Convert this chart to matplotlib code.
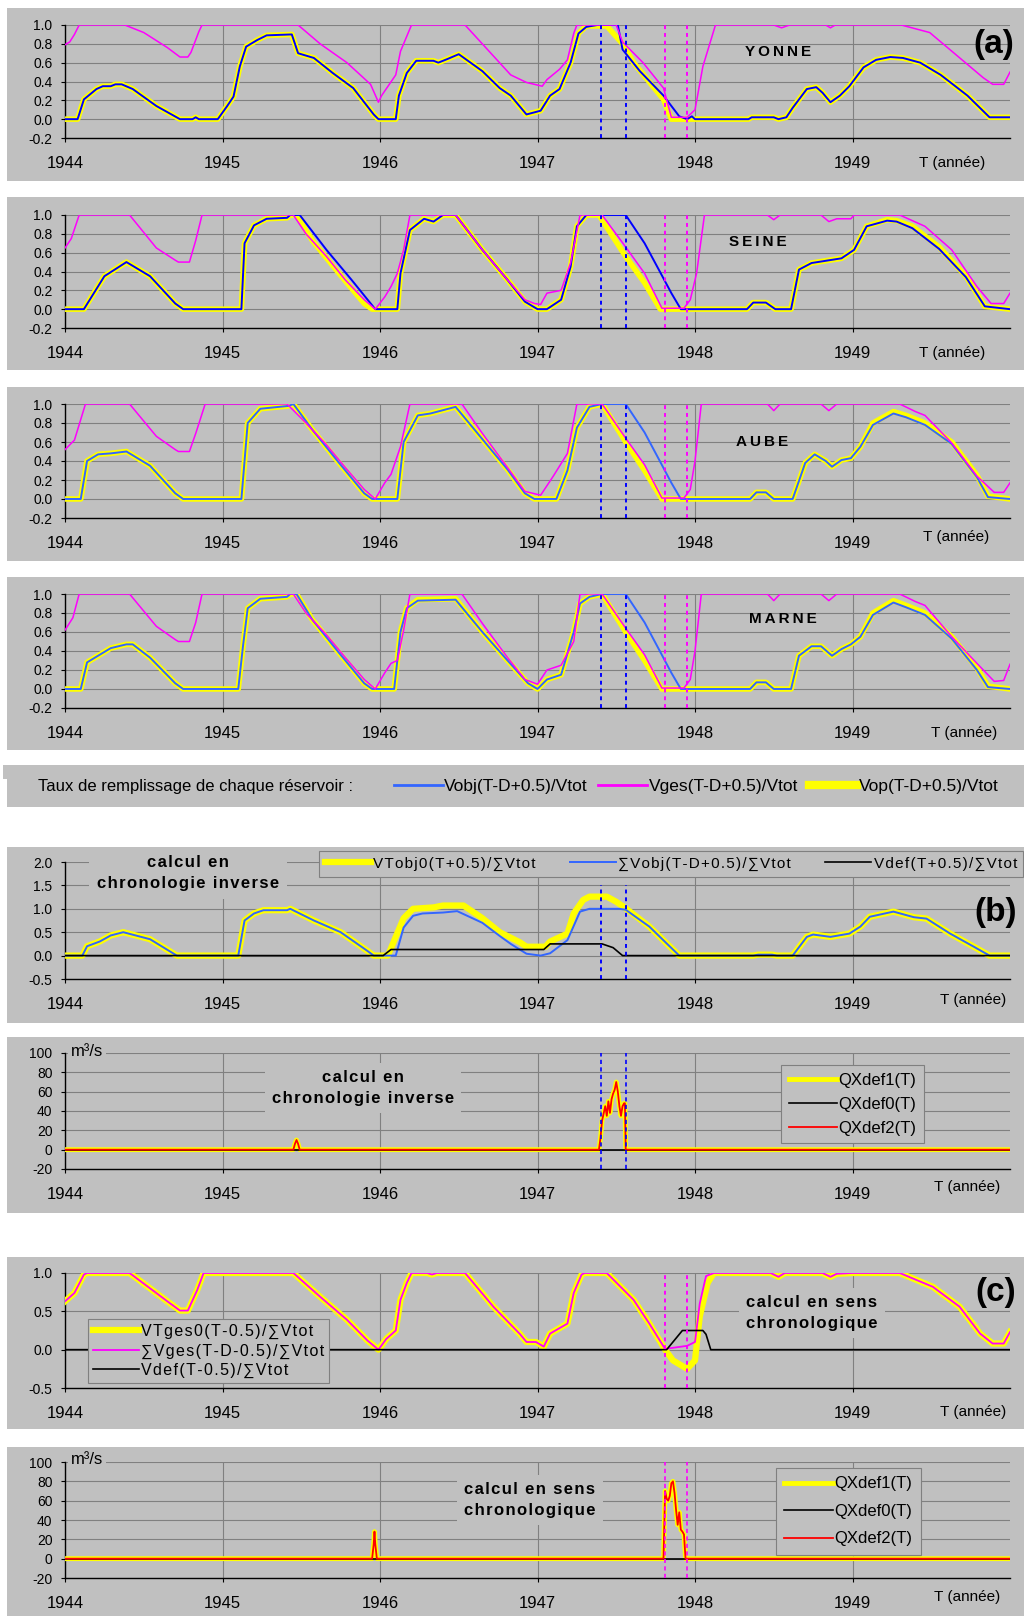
import matplotlib
matplotlib.use('Agg')
import matplotlib.pyplot as plt
from matplotlib.patches import Rectangle
from matplotlib.lines import Line2D
from matplotlib.ticker import FormatStrFormatter

plt.rcParams['font.family'] = ['Liberation Sans', 'DejaVu Sans']

GRAY = '#c0c0c0'
GRID = '#808080'
BLUE = '#0000ff'
LBLUE = '#3366ff'
MAG = '#ff00ff'
YEL = '#ffff00'
RED = '#ff0000'

years = [1944, 1945, 1946, 1947, 1948, 1949]
inverse_dates = [1947.40, 1947.56]
forward_dates = [1947.81, 1947.95]

# ---- (a) taux de remplissage par reservoir : (T, valeur)
yonne_ges = [(1944.00,0.79),(1944.03,0.82),(1944.06,0.90),(1944.09,1.00),(1944.38,1.00),(1944.50,0.92),(1944.65,0.76),(1944.73,0.66),(1944.78,0.66),(1944.80,0.71),(1944.85,0.93),(1944.87,1.00),(1945.48,1.00),(1945.62,0.80),(1945.79,0.60),(1945.94,0.37),(1945.99,0.18),(1946.01,0.25),(1946.10,0.47),(1946.13,0.72),(1946.20,1.00),(1946.54,1.00),(1946.83,0.47),(1946.93,0.39),(1947.03,0.35),(1947.06,0.42),(1947.14,0.53),(1947.19,0.63),(1947.23,0.91),(1947.25,1.00),(1947.50,1.00),(1947.54,0.82),(1947.67,0.60),(1947.80,0.33),(1947.85,0.02),(1947.95,0.02),(1948.00,0.10),(1948.05,0.56),(1948.13,1.00),(1948.50,1.00),(1948.55,0.97),(1948.60,1.00),(1948.83,1.00),(1948.86,0.97),(1948.89,1.00),(1949.31,1.00),(1949.49,0.92),(1949.66,0.68),(1949.83,0.44),(1949.89,0.37),(1949.96,0.37),(1950.00,0.50)]
yonne_op = [(1944.00,0.00),(1944.08,0.00),(1944.12,0.21),(1944.20,0.32),(1944.24,0.35),(1944.29,0.35),(1944.32,0.37),(1944.36,0.37),(1944.43,0.32),(1944.58,0.14),(1944.73,0.00),(1944.81,0.00),(1944.83,0.02),(1944.85,0.00),(1944.97,0.00),(1945.03,0.14),(1945.07,0.24),(1945.11,0.56),(1945.15,0.77),(1945.22,0.84),(1945.28,0.89),(1945.44,0.90),(1945.48,0.70),(1945.58,0.65),(1945.70,0.49),(1945.83,0.33),(1945.96,0.05),(1945.99,0.00),(1946.10,0.00),(1946.12,0.25),(1946.17,0.49),(1946.23,0.62),(1946.34,0.62),(1946.37,0.60),(1946.43,0.64),(1946.50,0.69),(1946.65,0.51),(1946.76,0.33),(1946.83,0.25),(1946.93,0.05),(1947.02,0.09),(1947.08,0.25),(1947.14,0.32),(1947.21,0.60),(1947.26,0.91),(1947.31,0.99),(1947.44,0.99),(1947.54,0.80),(1947.61,0.60),(1947.80,0.21),(1947.85,0.00),(1948.34,0.00),(1948.36,0.02),(1948.50,0.02),(1948.53,0.00),(1948.58,0.02),(1948.62,0.12),(1948.71,0.32),(1948.77,0.34),(1948.81,0.28),(1948.86,0.18),(1948.92,0.25),(1948.98,0.35),(1949.07,0.55),(1949.15,0.63),(1949.24,0.66),(1949.32,0.65),(1949.43,0.60),(1949.56,0.47),(1949.73,0.25),(1949.87,0.02),(1950.00,0.02)]
yonne_obj = [(1944.00,0.00),(1944.08,0.00),(1944.12,0.21),(1944.20,0.32),(1944.24,0.35),(1944.29,0.35),(1944.32,0.37),(1944.36,0.37),(1944.43,0.32),(1944.58,0.14),(1944.73,0.00),(1944.81,0.00),(1944.83,0.02),(1944.85,0.00),(1944.97,0.00),(1945.03,0.14),(1945.07,0.24),(1945.11,0.56),(1945.15,0.77),(1945.22,0.84),(1945.28,0.89),(1945.44,0.90),(1945.48,0.70),(1945.58,0.65),(1945.70,0.49),(1945.83,0.33),(1945.96,0.05),(1945.99,0.00),(1946.10,0.00),(1946.12,0.25),(1946.17,0.49),(1946.23,0.62),(1946.34,0.62),(1946.37,0.60),(1946.43,0.64),(1946.50,0.69),(1946.65,0.51),(1946.76,0.33),(1946.83,0.25),(1946.93,0.05),(1947.02,0.09),(1947.08,0.25),(1947.14,0.32),(1947.21,0.60),(1947.26,0.91),(1947.31,0.98),(1947.38,1.00),(1947.51,1.00),(1947.54,0.74),(1947.65,0.51),(1947.80,0.25),(1947.90,0.03),(1947.95,0.00),(1947.98,0.03),(1948.00,0.00),(1948.34,0.00),(1948.36,0.02),(1948.50,0.02),(1948.53,0.00),(1948.58,0.02),(1948.62,0.12),(1948.71,0.32),(1948.77,0.34),(1948.81,0.28),(1948.86,0.18),(1948.92,0.25),(1948.98,0.35),(1949.07,0.55),(1949.15,0.63),(1949.24,0.66),(1949.32,0.65),(1949.43,0.60),(1949.56,0.47),(1949.73,0.25),(1949.87,0.02),(1950.00,0.02)]

seine_ges = [(1944.00,0.65),(1944.04,0.75),(1944.09,1.00),(1944.41,1.00),(1944.58,0.65),(1944.70,0.52),(1944.72,0.50),(1944.79,0.50),(1944.83,0.73),(1944.87,1.00),(1945.45,1.00),(1945.53,0.80),(1945.66,0.56),(1945.78,0.31),(1945.90,0.10),(1945.97,0.00),(1946.03,0.13),(1946.07,0.24),(1946.11,0.38),(1946.15,0.63),(1946.19,1.00),(1946.48,1.00),(1946.65,0.63),(1946.81,0.31),(1946.92,0.10),(1946.98,0.06),(1947.02,0.05),(1947.06,0.17),(1947.15,0.20),(1947.21,0.49),(1947.27,1.00),(1947.41,1.00),(1947.56,0.66),(1947.68,0.38),(1947.79,0.01),(1947.93,0.01),(1947.97,0.10),(1948.01,0.38),(1948.06,1.00),(1948.46,1.00),(1948.50,0.95),(1948.54,1.00),(1948.80,1.00),(1948.85,0.93),(1948.90,0.96),(1948.99,0.96),(1949.01,1.00),(1949.30,1.00),(1949.46,0.88),(1949.63,0.63),(1949.79,0.24),(1949.88,0.06),(1949.96,0.06),(1950.00,0.17)]
seine_op = [(1944.00,0.00),(1944.12,0.00),(1944.25,0.35),(1944.39,0.50),(1944.54,0.35),(1944.70,0.06),(1944.75,0.00),(1945.12,0.00),(1945.14,0.70),(1945.20,0.89),(1945.28,0.96),(1945.41,0.97),(1945.43,1.00),(1945.47,1.00),(1945.57,0.73),(1945.74,0.38),(1945.90,0.06),(1945.95,0.00),(1946.11,0.00),(1946.13,0.38),(1946.19,0.84),(1946.28,0.96),(1946.34,0.93),(1946.40,1.00),(1946.48,1.00),(1946.65,0.63),(1946.81,0.31),(1946.92,0.08),(1947.00,0.00),(1947.06,0.00),(1947.15,0.10),(1947.21,0.45),(1947.25,0.88),(1947.31,1.00),(1947.39,1.00),(1947.56,0.56),(1947.68,0.28),(1947.78,0.00),(1948.33,0.00),(1948.37,0.07),(1948.45,0.07),(1948.51,0.00),(1948.61,0.00),(1948.66,0.42),(1948.74,0.49),(1948.93,0.54),(1949.01,0.63),(1949.09,0.88),(1949.22,0.95),(1949.28,0.94),(1949.38,0.88),(1949.55,0.66),(1949.72,0.35),(1949.84,0.03),(1950.00,0.00)]
seine_obj = [(1944.00,0.00),(1944.12,0.00),(1944.25,0.35),(1944.39,0.50),(1944.54,0.35),(1944.70,0.06),(1944.75,0.00),(1945.12,0.00),(1945.14,0.70),(1945.20,0.89),(1945.28,0.96),(1945.41,0.97),(1945.43,1.00),(1945.49,1.00),(1945.66,0.63),(1945.82,0.31),(1945.97,0.00),(1946.11,0.00),(1946.13,0.38),(1946.19,0.84),(1946.28,0.96),(1946.34,0.93),(1946.40,1.00),(1946.48,1.00),(1946.65,0.63),(1946.81,0.31),(1946.92,0.08),(1947.00,0.00),(1947.06,0.00),(1947.15,0.10),(1947.21,0.45),(1947.25,0.88),(1947.31,1.00),(1947.56,1.00),(1947.68,0.70),(1947.77,0.42),(1947.85,0.17),(1947.91,0.00),(1948.33,0.00),(1948.37,0.07),(1948.45,0.07),(1948.51,0.00),(1948.61,0.00),(1948.66,0.42),(1948.74,0.49),(1948.93,0.54),(1949.01,0.63),(1949.09,0.88),(1949.22,0.94),(1949.28,0.93),(1949.38,0.86),(1949.55,0.64),(1949.72,0.34),(1949.84,0.03),(1950.00,0.00)]

aube_ges = [(1944.00,0.52),(1944.06,0.62),(1944.13,1.00),(1944.41,1.00),(1944.58,0.66),(1944.70,0.52),(1944.72,0.50),(1944.79,0.50),(1944.83,0.69),(1944.89,1.00),(1945.41,1.00),(1945.53,0.80),(1945.66,0.57),(1945.78,0.33),(1945.90,0.10),(1945.97,0.00),(1946.03,0.17),(1946.07,0.26),(1946.13,0.55),(1946.19,1.00),(1946.52,1.00),(1946.65,0.69),(1946.81,0.33),(1946.92,0.08),(1947.02,0.04),(1947.10,0.24),(1947.19,0.48),(1947.25,1.00),(1947.41,1.00),(1947.56,0.64),(1947.68,0.36),(1947.79,0.01),(1947.93,0.01),(1947.97,0.10),(1948.00,0.40),(1948.04,1.00),(1948.46,1.00),(1948.50,0.93),(1948.54,1.00),(1948.80,1.00),(1948.85,0.93),(1948.90,1.00),(1949.30,1.00),(1949.40,0.92),(1949.46,0.88),(1949.63,0.59),(1949.79,0.24),(1949.90,0.07),(1949.96,0.07),(1950.00,0.17)]
aube_op = [(1944.00,0.00),(1944.10,0.00),(1944.14,0.40),(1944.21,0.47),(1944.29,0.48),(1944.39,0.50),(1944.54,0.35),(1944.70,0.06),(1944.75,0.00),(1945.12,0.00),(1945.16,0.80),(1945.24,0.95),(1945.42,0.98),(1945.45,1.00),(1945.57,0.73),(1945.74,0.38),(1945.90,0.06),(1945.95,0.00),(1946.11,0.00),(1946.15,0.60),(1946.24,0.88),(1946.32,0.90),(1946.48,0.97),(1946.65,0.63),(1946.81,0.31),(1946.92,0.06),(1946.98,0.00),(1947.12,0.00),(1947.19,0.30),(1947.25,0.75),(1947.33,0.97),(1947.41,1.00),(1947.56,0.60),(1947.68,0.30),(1947.79,0.00),(1948.35,0.00),(1948.39,0.07),(1948.45,0.07),(1948.50,0.00),(1948.62,0.00),(1948.70,0.38),(1948.76,0.47),(1948.83,0.40),(1948.87,0.34),(1948.93,0.41),(1948.99,0.43),(1949.05,0.55),(1949.13,0.80),(1949.26,0.92),(1949.34,0.88),(1949.46,0.80),(1949.63,0.60),(1949.79,0.25),(1949.86,0.03),(1950.00,0.00)]
aube_obj = [(1944.00,0.00),(1944.10,0.00),(1944.14,0.40),(1944.21,0.47),(1944.29,0.48),(1944.39,0.50),(1944.54,0.35),(1944.70,0.06),(1944.75,0.00),(1945.12,0.00),(1945.16,0.80),(1945.24,0.95),(1945.42,0.98),(1945.45,1.00),(1945.57,0.73),(1945.74,0.38),(1945.90,0.06),(1945.95,0.00),(1946.11,0.00),(1946.15,0.60),(1946.24,0.88),(1946.32,0.90),(1946.48,0.97),(1946.65,0.63),(1946.81,0.31),(1946.92,0.06),(1946.98,0.00),(1947.12,0.00),(1947.19,0.30),(1947.25,0.75),(1947.33,0.97),(1947.41,1.00),(1947.56,1.00),(1947.68,0.70),(1947.77,0.42),(1947.85,0.17),(1947.91,0.00),(1948.35,0.00),(1948.39,0.07),(1948.45,0.07),(1948.50,0.00),(1948.62,0.00),(1948.70,0.38),(1948.76,0.47),(1948.83,0.40),(1948.87,0.34),(1948.93,0.41),(1948.99,0.43),(1949.05,0.55),(1949.13,0.78),(1949.26,0.90),(1949.34,0.86),(1949.46,0.78),(1949.63,0.58),(1949.79,0.23),(1949.86,0.02),(1950.00,0.00)]

marne_ges = [(1944.00,0.62),(1944.05,0.75),(1944.09,1.00),(1944.41,1.00),(1944.58,0.66),(1944.70,0.52),(1944.72,0.50),(1944.79,0.50),(1944.83,0.70),(1944.87,1.00),(1945.45,1.00),(1945.53,0.80),(1945.66,0.57),(1945.78,0.33),(1945.90,0.10),(1945.97,0.00),(1946.03,0.17),(1946.07,0.27),(1946.11,0.30),(1946.15,0.62),(1946.19,1.00),(1946.52,1.00),(1946.65,0.69),(1946.81,0.33),(1946.92,0.10),(1947.00,0.05),(1947.06,0.20),(1947.15,0.25),(1947.23,0.50),(1947.27,1.00),(1947.41,1.00),(1947.56,0.64),(1947.68,0.36),(1947.79,0.01),(1947.93,0.01),(1947.97,0.10),(1948.00,0.40),(1948.04,1.00),(1948.46,1.00),(1948.50,0.93),(1948.54,1.00),(1948.80,1.00),(1948.85,0.93),(1948.90,1.00),(1949.30,1.00),(1949.40,0.92),(1949.46,0.88),(1949.63,0.55),(1949.79,0.27),(1949.90,0.08),(1949.96,0.09),(1950.00,0.26)]
marne_op = [(1944.00,0.00),(1944.10,0.00),(1944.14,0.28),(1944.21,0.35),(1944.29,0.43),(1944.39,0.47),(1944.43,0.47),(1944.54,0.33),(1944.70,0.06),(1944.75,0.00),(1945.10,0.00),(1945.13,0.45),(1945.16,0.85),(1945.24,0.95),(1945.41,0.97),(1945.43,1.00),(1945.47,1.00),(1945.57,0.73),(1945.74,0.38),(1945.90,0.06),(1945.95,0.00),(1946.09,0.00),(1946.13,0.60),(1946.17,0.85),(1946.24,0.94),(1946.48,0.95),(1946.65,0.60),(1946.81,0.30),(1946.94,0.06),(1947.00,0.00),(1947.06,0.10),(1947.15,0.15),(1947.23,0.60),(1947.27,0.90),(1947.33,0.97),(1947.41,1.00),(1947.56,0.60),(1947.68,0.30),(1947.79,0.00),(1948.35,0.00),(1948.39,0.07),(1948.45,0.07),(1948.50,0.00),(1948.61,0.00),(1948.66,0.35),(1948.74,0.45),(1948.80,0.45),(1948.87,0.35),(1948.93,0.42),(1948.99,0.47),(1949.05,0.55),(1949.13,0.80),(1949.26,0.93),(1949.34,0.88),(1949.46,0.80),(1949.63,0.55),(1949.79,0.22),(1949.86,0.03),(1950.00,0.00)]
marne_obj = [(1944.00,0.00),(1944.10,0.00),(1944.14,0.28),(1944.21,0.35),(1944.29,0.43),(1944.39,0.47),(1944.43,0.47),(1944.54,0.33),(1944.70,0.06),(1944.75,0.00),(1945.10,0.00),(1945.13,0.45),(1945.16,0.85),(1945.24,0.95),(1945.41,0.97),(1945.43,1.00),(1945.47,1.00),(1945.57,0.73),(1945.74,0.38),(1945.90,0.06),(1945.95,0.00),(1946.09,0.00),(1946.13,0.60),(1946.17,0.85),(1946.24,0.93),(1946.48,0.94),(1946.65,0.60),(1946.81,0.30),(1946.94,0.06),(1947.00,0.00),(1947.06,0.10),(1947.15,0.15),(1947.23,0.60),(1947.27,0.90),(1947.33,0.97),(1947.41,1.00),(1947.56,1.00),(1947.68,0.70),(1947.77,0.42),(1947.85,0.17),(1947.91,0.00),(1948.35,0.00),(1948.39,0.07),(1948.45,0.07),(1948.50,0.00),(1948.61,0.00),(1948.66,0.35),(1948.74,0.45),(1948.80,0.45),(1948.87,0.35),(1948.93,0.42),(1948.99,0.47),(1949.05,0.55),(1949.13,0.78),(1949.26,0.91),(1949.34,0.86),(1949.46,0.78),(1949.63,0.53),(1949.79,0.20),(1949.86,0.02),(1950.00,0.00)]

river_names = ['YONNE', 'SEINE', 'AUBE', 'MARNE']
legend_a_title = 'Taux de remplissage de chaque réservoir :'
legend_a_labels = ['Vobj(T-D+0.5)/Vtot', 'Vges(T-D+0.5)/Vtot', 'Vop(T-D+0.5)/Vtot']

# ---- (b) chronologie inverse
b_vtobj0 = [(1944.00,0.00),(1944.11,0.00),(1944.14,0.20),(1944.22,0.30),(1944.29,0.43),(1944.37,0.50),(1944.54,0.35),(1944.71,0.00),(1945.10,0.00),(1945.14,0.75),(1945.20,0.90),(1945.26,0.97),(1945.41,0.97),(1945.43,1.00),(1945.58,0.75),(1945.75,0.50),(1945.92,0.10),(1945.96,0.00),(1946.05,0.00),(1946.10,0.40),(1946.15,0.80),(1946.21,1.00),(1946.34,1.03),(1946.40,1.07),(1946.53,1.07),(1946.65,0.80),(1946.76,0.50),(1946.89,0.28),(1946.93,0.19),(1947.05,0.19),(1947.08,0.30),(1947.19,0.47),(1947.23,0.90),(1947.29,1.19),(1947.33,1.26),(1947.44,1.26),(1947.50,1.15),(1947.56,1.01),(1947.71,0.62),(1947.82,0.26),(1947.90,0.00),(1948.37,0.00),(1948.40,0.02),(1948.49,0.02),(1948.52,0.00),(1948.62,0.00),(1948.71,0.40),(1948.75,0.45),(1948.86,0.40),(1948.98,0.47),(1949.05,0.62),(1949.11,0.83),(1949.26,0.94),(1949.39,0.82),(1949.47,0.79),(1949.62,0.47),(1949.77,0.19),(1949.87,0.00),(1950.00,0.00)]
b_sumvobj = [(1944.00,0.00),(1944.11,0.00),(1944.14,0.20),(1944.22,0.30),(1944.29,0.43),(1944.37,0.50),(1944.54,0.35),(1944.71,0.00),(1945.10,0.00),(1945.14,0.75),(1945.20,0.90),(1945.26,0.97),(1945.41,0.97),(1945.43,1.00),(1945.58,0.75),(1945.75,0.50),(1945.92,0.10),(1945.96,0.00),(1946.10,0.00),(1946.15,0.60),(1946.21,0.85),(1946.27,0.90),(1946.40,0.92),(1946.49,0.95),(1946.65,0.70),(1946.76,0.42),(1946.83,0.25),(1946.93,0.04),(1947.02,0.00),(1947.08,0.05),(1947.19,0.33),(1947.27,0.94),(1947.33,1.00),(1947.52,1.00),(1947.56,0.98),(1947.71,0.62),(1947.82,0.26),(1947.90,0.00),(1948.37,0.00),(1948.40,0.02),(1948.49,0.02),(1948.52,0.00),(1948.62,0.00),(1948.71,0.40),(1948.75,0.45),(1948.86,0.40),(1948.98,0.47),(1949.05,0.62),(1949.11,0.83),(1949.26,0.94),(1949.39,0.82),(1949.47,0.79),(1949.62,0.47),(1949.77,0.19),(1949.87,0.00),(1950.00,0.00)]
b_vdef = [(1944.00,0.00),(1946.02,0.00),(1946.07,0.13),(1947.04,0.13),(1947.08,0.25),(1947.41,0.25),(1947.48,0.17),(1947.54,0.00),(1950.00,0.00)]
b_labels = ['VTobj0(T+0.5)/∑Vtot', '∑Vobj(T-D+0.5)/∑Vtot', 'Vdef(T+0.5)/∑Vtot']

b_qxdef = [(1944.00,0),(1945.45,0),(1945.46,6),(1945.47,10),(1945.48,6),(1945.49,0),(1947.39,0),(1947.40,12),(1947.41,30),(1947.43,45),(1947.44,35),(1947.45,50),(1947.46,38),(1947.47,52),(1947.48,58),(1947.49,62),(1947.50,70),(1947.51,60),(1947.52,45),(1947.53,35),(1947.54,45),(1947.55,48),(1947.555,48),(1947.56,0),(1950.00,0)]
b_qxdef0 = [(1944.00,0),(1950.00,0)]

# ---- (c) sens chronologique
c_sumvges = [(1944.00,0.63),(1944.06,0.74),(1944.12,0.98),(1944.14,1.00),(1944.41,1.00),(1944.54,0.80),(1944.65,0.63),(1944.73,0.51),(1944.78,0.51),(1944.84,0.78),(1944.88,1.00),(1945.45,1.00),(1945.62,0.69),(1945.79,0.39),(1945.92,0.12),(1945.99,0.00),(1946.04,0.14),(1946.10,0.25),(1946.13,0.65),(1946.17,0.87),(1946.20,1.00),(1946.30,1.00),(1946.33,0.98),(1946.36,1.00),(1946.54,1.00),(1946.72,0.56),(1946.89,0.20),(1946.93,0.10),(1946.99,0.10),(1947.04,0.04),(1947.08,0.21),(1947.19,0.34),(1947.23,0.74),(1947.28,0.98),(1947.30,1.00),(1947.44,1.00),(1947.61,0.65),(1947.71,0.34),(1947.81,0.01),(1947.95,0.05),(1948.00,0.10),(1948.03,0.60),(1948.07,0.96),(1948.12,1.00),(1948.48,1.00),(1948.53,0.95),(1948.57,1.00),(1948.81,1.00),(1948.86,0.95),(1948.90,0.99),(1949.00,1.00),(1949.30,1.00),(1949.51,0.82),(1949.68,0.56),(1949.81,0.21),(1949.89,0.08),(1949.96,0.08),(1950.00,0.23)]
c_vtges0 = [(1944.00,0.63),(1944.06,0.74),(1944.12,0.98),(1944.14,1.00),(1944.41,1.00),(1944.54,0.80),(1944.65,0.63),(1944.73,0.51),(1944.78,0.51),(1944.84,0.78),(1944.88,1.00),(1945.45,1.00),(1945.62,0.69),(1945.79,0.39),(1945.92,0.12),(1945.99,0.00),(1946.04,0.14),(1946.10,0.25),(1946.13,0.65),(1946.17,0.87),(1946.20,1.00),(1946.30,1.00),(1946.33,0.98),(1946.36,1.00),(1946.54,1.00),(1946.72,0.56),(1946.89,0.20),(1946.93,0.10),(1946.99,0.10),(1947.04,0.04),(1947.08,0.21),(1947.19,0.34),(1947.23,0.74),(1947.28,0.98),(1947.30,1.00),(1947.44,1.00),(1947.61,0.65),(1947.71,0.34),(1947.81,0.00),(1947.86,-0.14),(1947.95,-0.25),(1948.00,-0.14),(1948.03,0.43),(1948.08,0.87),(1948.12,1.00),(1948.48,1.00),(1948.53,0.95),(1948.57,1.00),(1948.81,1.00),(1948.86,0.95),(1948.90,0.99),(1949.00,1.00),(1949.30,1.00),(1949.51,0.82),(1949.68,0.56),(1949.81,0.21),(1949.89,0.08),(1949.96,0.08),(1950.00,0.23)]
c_vdef = [(1944.00,0.00),(1947.82,0.00),(1947.92,0.25),(1948.05,0.25),(1948.07,0.20),(1948.10,0.00),(1950.00,0.00)]
c_labels = ['VTges0(T-0.5)/∑Vtot', '∑Vges(T-D-0.5)/∑Vtot', 'Vdef(T-0.5)/∑Vtot']

c_qxdef = [(1944.00,0),(1945.95,0),(1945.96,15),(1945.965,28),(1945.97,15),(1945.98,0),(1947.80,0),(1947.81,70),(1947.82,62),(1947.83,60),(1947.84,65),(1947.85,78),(1947.86,80),(1947.87,68),(1947.88,50),(1947.89,35),(1947.90,48),(1947.91,30),(1947.92,28),(1947.93,25),(1947.94,0),(1950.00,0)]
c_qxdef0 = [(1944.00,0),(1950.00,0)]
qx_labels = ['QXdef1(T)', 'QXdef0(T)', 'QXdef2(T)']

W, H = 1024, 1616
fig = plt.figure(figsize=(W / 100, H / 100), dpi=100)


def fx(x):
    return x / W


def fy(y):
    return 1 - y / H


def panel(top, bottom, left=7):
    fig.add_artist(Rectangle((fx(left), fy(bottom)), fx(W - left), (bottom - top) / H,
                             transform=fig.transFigure, fc=GRAY, ec='none', zorder=-5))


def make_axes(top, bottom, ylim, yticks, fmt):
    ax = fig.add_axes([fx(65), fy(bottom), fx(1010 - 65), (bottom - top) / H])
    ax.set_facecolor(GRAY)
    ax.set_xlim(1944, 1950)
    ax.set_ylim(*ylim)
    ax.set_xticks(years)
    ax.set_xticklabels([str(y) for y in years], fontsize=12,
                       family=['Liberation Sans Narrow', 'Liberation Sans'])
    ax.set_yticks(yticks)
    ax.yaxis.set_major_formatter(FormatStrFormatter(fmt))
    ax.tick_params(axis='y', labelsize=10, length=3, pad=6)
    ax.tick_params(axis='x', length=3, pad=10)
    ax.grid(True, color=GRID, lw=0.8)
    ax.set_axisbelow(True)
    for s in ['top', 'right']:
        ax.spines[s].set_visible(False)
    for s in ['left', 'bottom']:
        ax.spines[s].set_color('black')
        ax.spines[s].set_linewidth(1.0)
    return ax


def xy(pairs):
    return [p[0] for p in pairs], [p[1] for p in pairs]


def spaced(s, sep='\u2009'):
    return '\n'.join(sep.join(line) for line in s.split('\n'))


HAIR = '\u200a'

# ================= (a) =================
rivers = [
    (yonne_ges, yonne_op, yonne_obj, BLUE),
    (seine_ges, seine_op, seine_obj, BLUE),
    (aube_ges, aube_op, aube_obj, LBLUE),
    (marne_ges, marne_op, marne_obj, LBLUE),
]
a_boxes = [(8, 181, 25, 138), (197, 370, 215, 328), (387, 561, 404, 518), (577, 750, 594, 708)]
name_pos = [(778, 52), (758, 242), (762, 442), (783, 619)]
t_pos = [(952, 163), (952, 353), (956, 537), (964, 733)]

for (ges, op, obj, bcol), (pt, pb, at, ab), name, npos, tpos in zip(rivers, a_boxes, river_names, name_pos, t_pos):
    panel(pt, pb)
    ax = make_axes(at, ab, (-0.2, 1.0), [-0.2, 0.0, 0.2, 0.4, 0.6, 0.8, 1.0], '%.1f')
    ax.plot(*xy(op), color=YEL, lw=4.0, solid_joinstyle='round', zorder=3)
    ax.plot(*xy(obj), color=bcol, lw=1.4, zorder=4)
    ax.plot(*xy(ges), color=MAG, lw=1.1, zorder=5)
    for d in inverse_dates:
        ax.axvline(d, color=BLUE, lw=1.4, ls=(0, (2, 2)), zorder=6)
    for d in forward_dates:
        ax.axvline(d, color=MAG, lw=1.4, ls=(0, (2, 2)), zorder=6)
    fig.text(fx(npos[0]), fy(npos[1]), spaced(name), fontsize=11, weight='bold',
             ha='center', va='center')
    fig.text(fx(tpos[0]), fy(tpos[1]), 'T (année)', fontsize=11, ha='center', va='center')

fig.text(fx(994), fy(44), '(a)', fontsize=24, weight='bold', ha='center', va='center')

# legend strip
panel(765, 807)
panel(765, 779, left=3)
fig.text(fx(38), fy(786), legend_a_title, fontsize=12, va='center')
fig.legend(handles=[Line2D([], [], color=LBLUE, lw=2), Line2D([], [], color=MAG, lw=2),
                    Line2D([], [], color=YEL, lw=6)],
           labels=legend_a_labels, loc='center left', bbox_to_anchor=(fx(394), fy(786)),
           ncol=3, frameon=False, fontsize=12.5, handlelength=2.8, handletextpad=0.1,
           columnspacing=0.6, borderpad=0, borderaxespad=0)

# ================= (b) =================
panel(847, 1023)
ax = make_axes(862, 979, (-0.5, 2.0), [-0.5, 0.0, 0.5, 1.0, 1.5, 2.0], '%.1f')
ax.plot(*xy(b_vtobj0), color=YEL, lw=4.5, solid_joinstyle='round', zorder=3, label=spaced(b_labels[0], HAIR))
ax.plot(*xy(b_sumvobj), color=LBLUE, lw=1.4, zorder=4, label=spaced(b_labels[1], HAIR))
ax.plot(*xy(b_vdef), color='black', lw=1.2, zorder=5, label=spaced(b_labels[2], HAIR))
ax.vlines(inverse_dates, -0.5, 1.5, color=BLUE, lw=1.4, linestyles=[(0, (2, 2))], zorder=6)
leg = ax.legend(loc='lower left', bbox_to_anchor=(fx(319), fy(877), fx(1023 - 319), 30 / H),
                bbox_transform=fig.transFigure, mode='expand', ncol=3, fontsize=11,
                handlelength=3.0, handletextpad=0.15, borderpad=0.4, borderaxespad=0,
                fancybox=False, framealpha=1, facecolor=GRAY, edgecolor=GRID)
leg.get_frame().set_linewidth(0.8)
ax.text(fx(188), fy(873), spaced('calcul en\nchronologie inverse', HAIR), transform=fig.transFigure,
        fontsize=12, weight='bold', ha='center', va='center', linespacing=1.45, zorder=7,
        bbox=dict(fc=GRAY, ec='none', pad=6))
fig.text(fx(973), fy(1000), 'T (année)', fontsize=11, ha='center', va='center')
fig.text(fx(996), fy(913), '(b)', fontsize=24, weight='bold', ha='center', va='center')

panel(1037, 1213)
ax = make_axes(1053, 1169, (-20, 100), [-20, 0, 20, 40, 60, 80, 100], '%d')
ax.plot(*xy(b_qxdef), color=YEL, lw=3.5, solid_joinstyle='round', zorder=3, label=qx_labels[0])
ax.plot(*xy(b_qxdef0), color='black', lw=1.2, zorder=4, label=qx_labels[1])
ax.plot(*xy(b_qxdef), color=RED, lw=1.3, zorder=5, label=qx_labels[2])
for d in inverse_dates:
    ax.axvline(d, color=BLUE, lw=1.2, ls=(0, (2.5, 2)), zorder=6)
leg = ax.legend(loc='upper left', bbox_to_anchor=(fx(781), fy(1065)),
                bbox_transform=fig.transFigure, fontsize=12, handlelength=2.9,
                handletextpad=0.1, labelspacing=0.55, borderpad=0.45, borderaxespad=0,
                fancybox=False, framealpha=1, facecolor=GRAY, edgecolor=GRID)
leg.get_frame().set_linewidth(0.8)
ax.text(fx(363), fy(1088), spaced('calcul en\nchronologie inverse', HAIR), transform=fig.transFigure,
        fontsize=12, weight='bold', ha='center', va='center', linespacing=1.45, zorder=7,
        bbox=dict(fc=GRAY, ec='none', pad=5))
ax.text(fx(71), fy(1051), 'm³/s', transform=fig.transFigure, fontsize=12,
        ha='left', va='center', zorder=7, bbox=dict(fc=GRAY, ec='none', pad=2))
fig.text(fx(967), fy(1187), 'T (année)', fontsize=11, ha='center', va='center')

# ================= (c) =================
panel(1257, 1429)
ax = make_axes(1273, 1388, (-0.5, 1.0), [-0.5, 0.0, 0.5, 1.0], '%.1f')
ax.plot(*xy(c_vtges0), color=YEL, lw=4.5, solid_joinstyle='round', zorder=3, label=spaced(c_labels[0], HAIR))
ax.plot(*xy(c_sumvges), color=MAG, lw=1.3, zorder=4, label=spaced(c_labels[1], HAIR))
ax.plot(*xy(c_vdef), color='black', lw=1.2, zorder=5, label=spaced(c_labels[2], HAIR))
for d in forward_dates:
    ax.axvline(d, color=MAG, lw=1.4, ls=(0, (2, 2)), zorder=6)
leg = ax.legend(loc='upper left', bbox_to_anchor=(fx(88), fy(1319)),
                bbox_transform=fig.transFigure, fontsize=11.5, handlelength=2.9,
                handletextpad=0.1, labelspacing=0.28, borderpad=0.3, borderaxespad=0,
                fancybox=False, framealpha=1, facecolor=GRAY, edgecolor=GRID)
leg.get_frame().set_linewidth(0.8)
ax.text(fx(812), fy(1313), spaced('calcul en sens\nchronologique', HAIR), transform=fig.transFigure,
        fontsize=12, weight='bold', ha='center', va='center', linespacing=1.45, zorder=7,
        bbox=dict(fc=GRAY, ec='none', pad=5))
fig.text(fx(973), fy(1412), 'T (année)', fontsize=11, ha='center', va='center')
fig.text(fx(996), fy(1292), '(c)', fontsize=24, weight='bold', ha='center', va='center')

panel(1447, 1625)
ax = make_axes(1462, 1578, (-20, 100), [-20, 0, 20, 40, 60, 80, 100], '%d')
ax.plot(*xy(c_qxdef), color=YEL, lw=3.5, solid_joinstyle='round', zorder=3, label=qx_labels[0])
ax.plot(*xy(c_qxdef0), color='black', lw=1.2, zorder=4, label=qx_labels[1])
ax.plot(*xy(c_qxdef), color=RED, lw=1.3, zorder=5, label=qx_labels[2])
for d in forward_dates:
    ax.axvline(d, color=MAG, lw=1.2, ls=(0, (2.5, 2)), zorder=6)
leg = ax.legend(loc='upper left', bbox_to_anchor=(fx(776), fy(1468)),
                bbox_transform=fig.transFigure, fontsize=12, handlelength=2.9,
                handletextpad=0.1, labelspacing=0.75, borderpad=0.5, borderaxespad=0,
                fancybox=False, framealpha=1, facecolor=GRAY, edgecolor=GRID)
leg.get_frame().set_linewidth(0.8)
ax.text(fx(530), fy(1500), spaced('calcul en sens\nchronologique', HAIR), transform=fig.transFigure,
        fontsize=12, weight='bold', ha='center', va='center', linespacing=1.45, zorder=7,
        bbox=dict(fc=GRAY, ec='none', pad=5))
ax.text(fx(71), fy(1460), 'm³/s', transform=fig.transFigure, fontsize=12,
        ha='left', va='center', zorder=7, bbox=dict(fc=GRAY, ec='none', pad=2))
fig.text(fx(967), fy(1597), 'T (année)', fontsize=11, ha='center', va='center')

fig.savefig('out.png', dpi=100)
